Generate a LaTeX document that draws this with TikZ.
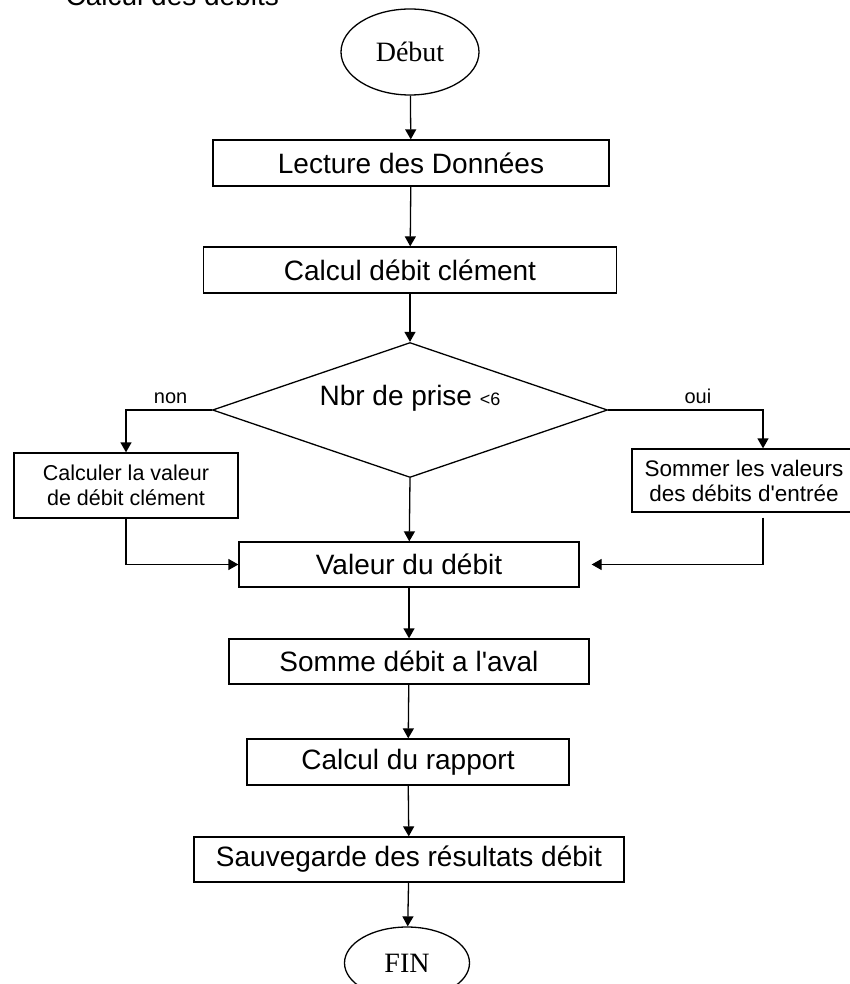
\documentclass[tikz,border=0pt]{standalone}
\usepackage{fontspec}
\setmainfont{Liberation Sans}
\newfontfamily\sansface{Liberation Sans}
\newfontfamily\serifface{Liberation Serif}
\usetikzlibrary{arrows.meta,shapes.geometric,positioning}

\begin{document}
\begin{tikzpicture}[>={Triangle[width=11pt,length=10pt]},x=1pt,y=-1pt,line width=1.3pt,
    boite/.style={rectangle,draw,text centered,align=center,inner sep=0pt,minimum height=46pt,font=\sansface\fontsize{28}{32}\selectfont},
    petiteboite/.style={rectangle,draw,text centered,align=center,inner sep=0pt,font=\sansface\fontsize{21.5}{25}\selectfont},
    terminal/.style={ellipse,draw,inner sep=0pt,font=\serifface\fontsize{28}{32}\selectfont},
    etiquette/.style={above=2pt,font=\sansface\fontsize{20}{24}\selectfont}]
        \useasboundingbox (0,0) rectangle (850,984);
        % Titre
        \node(titre) at (65,6)[anchor=base west,inner sep=0pt,font=\sansface\fontsize{28}{32}\selectfont] {Calcul des débits};
        % Nodes
        \node(debut) at (410,52)[terminal,minimum width=138pt,minimum height=86pt] {Début};
        \node(lecture) at (411,163)[boite,minimum width=396pt] {Lecture des Données};
        \node(calcul) at (410,270)[boite,minimum width=413pt] {Calcul débit clément};
        \node(test) at (410,410)[diamond,draw,inner sep=0pt,minimum width=395pt,minimum height=135pt,
            label={[yshift=12pt,font=\sansface\fontsize{28}{32}\selectfont]center:Nbr de prise {\fontsize{18}{20}\selectfont<6}}] {};
        \node(calculer) at (126,485.5)[petiteboite,minimum width=224pt,minimum height=65pt] {Calculer la valeur\\de débit clément};
        \node(sommer) at (744,480.5)[petiteboite,minimum width=224pt,minimum height=63pt,font=\sansface\fontsize{22.5}{25}\selectfont] {Sommer les valeurs\\des débits d'entrée};
        \node(valeur) at (409,564.5)[boite,minimum width=340pt,minimum height=45pt] {Valeur du débit};
        \node(somme) at (409,661.5)[boite,minimum width=360pt,minimum height=45pt] {Somme débit a l'aval};
        \node(rapport) at (408,762)[boite,minimum width=322pt] {Calcul du rapport};
        \node(sauvegarde) at (409,859.5)[boite,minimum width=430pt,minimum height=45pt] {Sauvegarde des résultats débit};
        \node(fin) at (407,963)[terminal,minimum width=125pt,minimum height=72pt] {FIN};
        % Links
        \draw[->] (debut) -- (lecture);
        \draw[->] (lecture) -- (calcul);
        \draw[->] (calcul) -- (test);
        \draw[->] (test.west) -| (calculer.north) node[pos=0.24,etiquette]{non};
        \draw[->] (test.east) -| ([xshift=19pt]sommer.north) node[pos=0.29,etiquette]{oui};
        \draw[->] (test.south) -- (valeur);
        \draw[->] (calculer.south) |- (valeur.west);
        \draw[->,shorten <=5pt,shorten >=12pt] ([xshift=19pt]sommer.south) |- (valeur.east);
        \draw[->] (valeur) -- (somme);
        \draw[->] (somme) -- (rapport);
        \draw[->] (rapport) -- (sauvegarde);
        \draw[->] (sauvegarde) -- (fin);
    \end{tikzpicture}
\end{document}
